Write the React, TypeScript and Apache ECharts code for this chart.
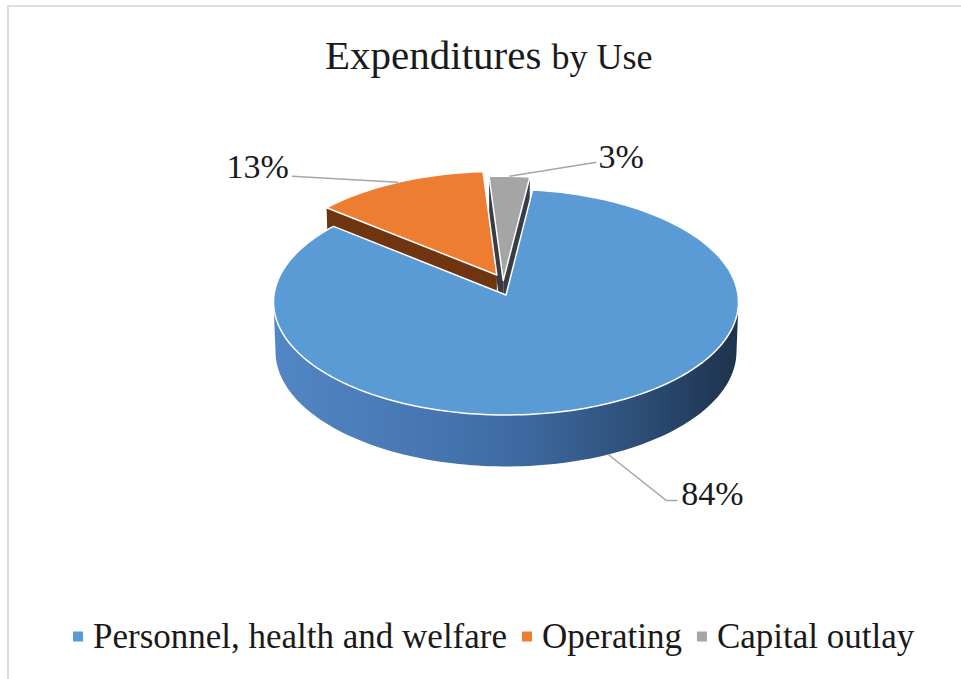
import React, { useEffect, useRef } from "react";
import * as echarts from "echarts";

// ---- data ----
const categories = ["Personnel, health and welfare", "Operating", "Capital outlay"];
const values = [84, 13, 3];
const titleMain = "Expenditures";
const titleSub = "by Use";

// ---- styles ----
const FONT = "Liberation Serif";
const TEXT_COLOR = "#1a1a1a";
const TOP_COLORS = ["#5b9bd5", "#ed7d31", "#a5a5a5"];
const CUT_COLORS = ["#2f5686", "#6f3410", "#383d45"];
const SIDE_FILLS: any[] = [
  {
    type: "linear", x: 0, y: 0, x2: 1, y2: 0,
    colorStops: [
      { offset: 0, color: "#5286c4" },
      { offset: 0.3, color: "#4878b4" },
      { offset: 0.55, color: "#3c689e" },
      { offset: 0.8, color: "#2c4c74" },
      { offset: 1, color: "#1d324c" },
    ],
  },
  "#8f4514",
  "#6f6f6f",
];

// ---- 3D projection parameters ----
const RAD = Math.PI / 180;
const CX = 506, CY = 295, F = 232, TILT = 29, DIST = 14, H = 0.245, START = 7;
const EXPLODE = [[0, 0], [-0.04, 0.18], [-0.012, 0.13]];
const SA = Math.sin(TILT * RAD), CA = Math.cos(TILT * RAD);
const CAM = [0, DIST * SA, -DIST * CA];

// label layout: pos along slice, which edge, leader offsets from anchor, text offset from leader end
const LABELS = [
  { pos: 0.49, edge: "bottom", leader: [[58, 46], [69, 46]], text: [4, -7], align: "left" },
  { pos: 0.5, edge: "top", leader: [[-106, -6]], text: [-3, -10], align: "right" },
  { pos: 0.5, edge: "top", leader: [[87, -14]], text: [2, -6], align: "left" },
];

const TOTAL = values.reduce((s, v) => s + v, 0);

function proj(w: number[]) {
  const [X, Y, Z] = w;
  const yp = Y * CA + Z * SA;
  const zp = Z * CA - Y * SA;
  const k = F / (1 + zp / DIST);
  return [CX + X * k, CY - yp * k];
}

function sliceRange(i: number) {
  let c = 0;
  for (let k = 0; k < i; k++) c += values[k];
  const a0 = START + (360 * c) / TOTAL;
  return [a0, a0 + (360 * values[i]) / TOTAL];
}

function dot(a: number[], b: number[]) {
  return a[0] * b[0] + a[1] * b[1] + a[2] * b[2];
}
function sub(a: number[], b: number[]) {
  return [a[0] - b[0], a[1] - b[1], a[2] - b[2]];
}

function buildSlice(i: number, value: number) {
  const [a0, a1] = sliceRange(i);
  const [ex, ez] = EXPLODE[i];
  const W = (X: number, Y: number, Z: number) => [X + ex, Y, Z + ez];
  const rimW = (th: number, Y: number) => W(Math.sin(th * RAD), Y, Math.cos(th * RAD));
  const steps = Math.max(2, Math.ceil((a1 - a0) / 1.5));
  const angles: number[] = [];
  for (let s = 0; s <= steps; s++) angles.push(a0 + ((a1 - a0) * s) / steps);
  const children: any[] = [];

  // radial cut faces (only front-facing)
  const faces: [number, number[]][] = [
    [a0, [-Math.cos(a0 * RAD), 0, Math.sin(a0 * RAD)]],
    [a1, [Math.cos(a1 * RAD), 0, -Math.sin(a1 * RAD)]],
  ];
  for (const [th, n] of faces) {
    const mid = W(0.5 * Math.sin(th * RAD), -H / 2, 0.5 * Math.cos(th * RAD));
    if (dot(n, sub(CAM, mid)) > 0) {
      children.push({
        type: "polygon",
        z2: 1,
        shape: { points: [proj(W(0, 0, 0)), proj(rimW(th, 0)), proj(rimW(th, -H)), proj(W(0, -H, 0))] },
        style: { fill: CUT_COLORS[i] },
      });
    }
  }

  // outer curved side (visible runs)
  let run: number[] = [];
  const flush = () => {
    if (run.length > 1) {
      const pts = run.map((th) => proj(rimW(th, 0))).concat(run.slice().reverse().map((th) => proj(rimW(th, -H))));
      children.push({ type: "polygon", z2: 2, shape: { points: pts }, style: { fill: SIDE_FILLS[i] } });
    }
    run = [];
  };
  for (const th of angles) {
    const n = [Math.sin(th * RAD), 0, Math.cos(th * RAD)];
    const p = rimW(th, -H / 2);
    if (dot(n, sub(CAM, p)) > 0) run.push(th);
    else flush();
  }
  flush();

  // top face
  children.push({
    type: "polygon",
    z2: 3,
    shape: { points: [proj(W(0, 0, 0))].concat(angles.map((th) => proj(rimW(th, 0)))) },
    style: { fill: TOP_COLORS[i], stroke: "#ffffff", lineWidth: 1.5, lineJoin: "round" },
  });

  // label + leader
  const L = LABELS[i];
  const th = a0 + (a1 - a0) * L.pos;
  const anchor = proj(rimW(th, L.edge === "bottom" ? -H : 0));
  const pts = [anchor].concat(L.leader.map((o) => [anchor[0] + o[0], anchor[1] + o[1]]));
  const end = pts[pts.length - 1];
  children.push({
    type: "polyline",
    z2: 4,
    shape: { points: pts },
    style: { stroke: "#a6a6a6", lineWidth: 1.5, fill: null },
  });
  children.push({
    type: "text",
    z2: 5,
    style: {
      text: `${Math.round((value / TOTAL) * 100)}%`,
      x: end[0] + L.text[0],
      y: end[1] + L.text[1],
      fill: TEXT_COLOR,
      font: `34px "${FONT}", serif`,
      fontFamily: FONT,
      fontSize: 34,
      align: L.align,
      verticalAlign: "middle",
    },
  });
  return children;
}

const option: any = {
  animation: false,
  backgroundColor: "#ffffff",
  title: {
    text: `{a|${titleMain}} {b|${titleSub}}`,
    left: 320,
    top: 24,
    textStyle: {
      fontFamily: FONT,
      fontSize: 41,
      fontWeight: "normal",
      color: TEXT_COLOR,
      rich: {
        a: { fontFamily: FONT, fontSize: 41, color: TEXT_COLOR, lineHeight: 46, verticalAlign: "bottom" },
        b: { fontFamily: FONT, fontSize: 36, color: TEXT_COLOR, lineHeight: 46, verticalAlign: "bottom" },
      },
    },
  },
  legend: {
    left: 68,
    top: 614,
    icon: "rect",
    itemWidth: 10,
    itemHeight: 10,
    itemGap: 15,
    data: categories,
    textStyle: { fontFamily: FONT, fontSize: 35, color: TEXT_COLOR, padding: [0, 0, 0, 5] },
  },
  graphic: [
    {
      type: "rect",
      silent: true,
      shape: { x: 8, y: 6, width: 1000, height: 1000 },
      style: { fill: "none", stroke: "#dedede", lineWidth: 2 },
    },
  ],
  series: categories.map((name, i) => ({
    type: "custom",
    name,
    coordinateSystem: "none",
    silent: true,
    itemStyle: { color: TOP_COLORS[i] },
    data: [values[i]],
    renderItem: (_params: any, api: any) => ({ type: "group", children: buildSlice(i, api.value(0)) }),
  })),
};

export default function App() {
  const ref = useRef<HTMLDivElement>(null);
  useEffect(() => {
    const chart = echarts.init(ref.current as HTMLDivElement, null, { renderer: "svg" });
    chart.setOption(option);
    return () => chart.dispose();
  }, []);
  return (
    <div
      ref={ref}
      style={{ position: "absolute", left: 0, top: 0, width: 961, height: 679, background: "#fff" }}
    />
  );
}
